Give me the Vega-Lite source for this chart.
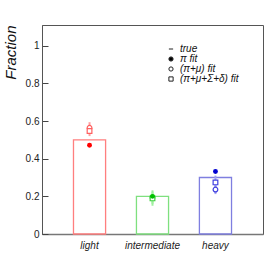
{
  "$schema": "https://vega.github.io/schema/vega-lite/v6.json",
  "width": 221,
  "height": 209,
  "autosize": {"type": "none"},
  "padding": {"left": 42, "top": 25, "right": 13, "bottom": 32},
  "background": "white",
  "config": {
    "font": "Liberation Sans",
    "view": {"stroke": "#555555", "strokeWidth": 1},
    "axis": {"grid": false, "labelFont": "Liberation Sans", "titleFont": "Liberation Sans"}
  },
  "datasets": {
    "bars": [
      {"cat": "light", "truth": 0.5},
      {"cat": "intermediate", "truth": 0.2},
      {"cat": "heavy", "truth": 0.3}
    ],
    "pts": [
      {"cat": "light", "method": "π fit", "value": 0.471, "lo": 0.465, "hi": 0.478},
      {"cat": "light", "method": "(π+μ) fit", "value": 0.564, "lo": 0.535, "hi": 0.594},
      {"cat": "light", "method": "(π+μ+Σ+δ) fit", "value": 0.547, "lo": 0.52, "hi": 0.575},
      {"cat": "intermediate", "method": "π fit", "value": 0.2, "lo": 0.19, "hi": 0.21},
      {"cat": "intermediate", "method": "(π+μ) fit", "value": 0.194, "lo": 0.16, "hi": 0.232},
      {"cat": "intermediate", "method": "(π+μ+Σ+δ) fit", "value": 0.189, "lo": 0.15, "hi": 0.225},
      {"cat": "heavy", "method": "π fit", "value": 0.332, "lo": 0.325, "hi": 0.34},
      {"cat": "heavy", "method": "(π+μ) fit", "value": 0.236, "lo": 0.212, "hi": 0.26},
      {"cat": "heavy", "method": "(π+μ+Σ+δ) fit", "value": 0.274, "lo": 0.245, "hi": 0.31}
    ]
  },
  "encoding": {
    "x": {
      "field": "cat", "type": "nominal",
      "sort": ["light", "intermediate", "heavy"],
      "scale": {"domain": ["light", "intermediate", "heavy"], "paddingInner": 0.49, "paddingOuter": 0.5},
      "axis": {
        "title": null, "ticks": false, "labelAngle": 0,
        "labelFontSize": 10, "labelFontStyle": "italic", "labelColor": "#222222",
        "labelPadding": 6, "domainColor": "#777777", "domainWidth": 1.5
      }
    }
  },
  "layer": [
    {
      "data": {"name": "bars"},
      "mark": {"type": "bar", "fill": "transparent", "strokeWidth": 1.3},
      "encoding": {
        "y": {
          "field": "truth", "type": "quantitative",
          "scale": {"domain": [0, 1.11], "nice": false, "zero": true},
          "axis": {
            "values": [0, 0.05, 0.1, 0.15, 0.2, 0.25, 0.3, 0.35, 0.4, 0.45, 0.5, 0.55, 0.6, 0.65, 0.7, 0.75, 0.8, 0.85, 0.9, 0.95, 1, 1.05, 1.1],
            "labelExpr": "abs(datum.value*5 - round(datum.value*5)) < 0.001 ? format(datum.value, '~g') : ''",
            "tickSize": {"condition": {"test": "abs(datum.value*5 - round(datum.value*5)) < 0.001", "value": -6}, "value": -3},
            "tickColor": {"condition": {"test": "abs(datum.value*5 - round(datum.value*5)) < 0.001", "value": "#444444"}, "value": "#999999"},
            "labelPadding": 9,
            "labelFontSize": 10, "labelColor": "#222222",
            "domainColor": "#555555",
            "title": "Fraction", "titleFontSize": 15, "titleFontStyle": "italic", "titleFontWeight": "normal",
            "titleAnchor": "end", "titlePadding": 7, "titleColor": "#111111"
          }
        },
        "stroke": {
          "field": "cat", "type": "nominal", "legend": null,
          "scale": {"domain": ["light", "intermediate", "heavy"], "range": ["#ff7f7f", "#7fe07f", "#7f7fe0"]}
        }
      }
    },
    {
      "data": {"name": "pts"},
      "mark": {"type": "rule", "strokeWidth": 2},
      "encoding": {
        "y": {"field": "lo", "type": "quantitative"},
        "y2": {"field": "hi"},
        "color": {
          "field": "cat", "type": "nominal", "legend": null,
          "scale": {"domain": ["light", "intermediate", "heavy"], "range": ["#ffa0a0", "#a0f0a0", "#a0a0f0"]}
        }
      }
    },
    {
      "data": {"name": "pts"},
      "transform": [{"filter": "datum.method !== 'π fit'"}],
      "mark": {"type": "point", "filled": false, "size": 22, "strokeWidth": 1.2, "fill": "white", "fillOpacity": 1},
      "encoding": {
        "y": {"field": "value", "type": "quantitative"},
        "color": {
          "field": "cat", "type": "nominal", "legend": null,
          "scale": {"domain": ["light", "intermediate", "heavy"], "range": ["#ff6060", "#40d040", "#4040e0"]}
        },
        "shape": {
          "field": "method", "type": "nominal",
          "scale": {"domain": ["true", "π fit", "(π+μ) fit", "(π+μ+Σ+δ) fit"], "range": ["stroke", "circle", "circle", "square"]},
          "legend": {
            "orient": "none", "legendX": 124, "legendY": 19, "title": null, "padding": 0,
            "symbolSize": 18, "symbolStrokeWidth": 1, "labelOffset": 4,
            "labelFontSize": 10, "labelFontStyle": "italic", "labelColor": "#111111", "labelFont": "Liberation Sans",
            "rowPadding": -0.5,
            "encoding": {"symbols": {
              "fill": {"condition": {"test": "datum.value === 'π fit'", "value": "black"}, "value": "transparent"},
              "stroke": {"value": "#222222"},
              "strokeWidth": {"value": 1},
              "strokeOpacity": {"value": 1},
              "fillOpacity": {"value": 1},
              "opacity": {"value": 1}
            }}
          }
        }
      }
    },
    {
      "data": {"name": "pts"},
      "transform": [{"filter": "datum.method === 'π fit'"}],
      "mark": {"type": "point", "filled": true, "size": 24, "opacity": 1},
      "encoding": {
        "y": {"field": "value", "type": "quantitative"},
        "color": {
          "field": "cat", "type": "nominal", "legend": null,
          "scale": {"domain": ["light", "intermediate", "heavy"], "range": ["#ff0000", "#00c000", "#0000d0"]}
        },
        "shape": {"field": "method", "type": "nominal", "legend": null}
      }
    }
  ],
  "resolve": {"scale": {"color": "independent", "stroke": "independent"}}
}
